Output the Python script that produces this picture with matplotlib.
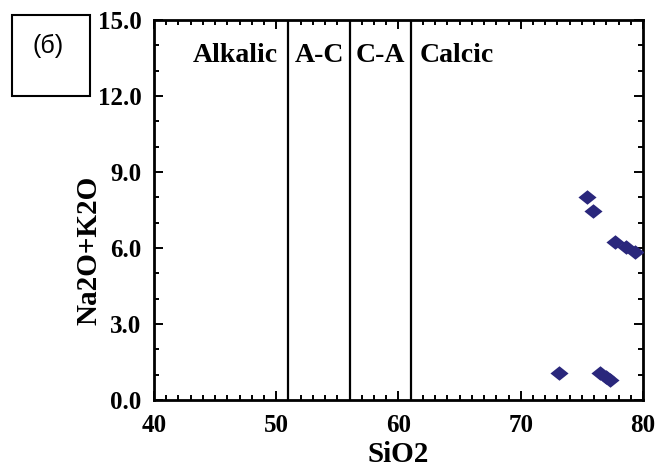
import matplotlib.pyplot as plt
from matplotlib.patches import Rectangle
from matplotlib.path import Path
from matplotlib.ticker import MultipleLocator

sio2 = [73.1, 75.4, 75.9, 76.5, 77.0, 77.3, 77.7, 78.6, 79.35]
alk = [1.05, 8.03, 7.47, 1.08, 0.92, 0.79, 6.22, 6.03, 5.84]
boundaries = [51, 56, 61]
fields = ["Alkalic", "A-C", "C-A", "Calcic"]
field_x = [43.2, 51.5, 56.5, 61.7]

serif = ["Liberation Serif", "DejaVu Serif"]

# slightly flattened diamond, as in the scanned figure
diamond = Path([(-1.25, 0), (0, 1), (1.25, 0), (0, -1), (-1.25, 0)],
               [Path.MOVETO, Path.LINETO, Path.LINETO, Path.LINETO, Path.CLOSEPOLY])

fig = plt.figure(figsize=(6.59, 4.68), dpi=100)
ax = fig.add_axes([0.2337, 0.1453, 0.742, 0.812])

ax.scatter(sio2, alk, marker=diamond, s=170, color="#2a277c", lw=0, zorder=3)
for b in boundaries:
    ax.axvline(b, color="black", lw=1.6)
for name, x in zip(fields, field_x):
    ax.text(x, 13.6, name, fontsize=20, fontweight="bold", family=serif,
            va="center", ha="left")

ax.set_xlim(40, 80)
ax.set_ylim(0, 15)
ax.xaxis.set_major_locator(MultipleLocator(10))
ax.xaxis.set_minor_locator(MultipleLocator(1))
ax.yaxis.set_major_locator(MultipleLocator(3))
ax.yaxis.set_minor_locator(MultipleLocator(1))
ax.tick_params(which="both", direction="in", top=True, right=True, width=1.4)
ax.tick_params(which="major", length=6.5, labelsize=18)
ax.tick_params(axis="x", which="major", pad=10)
ax.tick_params(axis="y", which="major", pad=9)
ax.tick_params(which="minor", length=3.5)
ax.set_yticklabels(["%.1f" % v for v in ax.get_yticks()])
for lab in ax.get_xticklabels() + ax.get_yticklabels():
    lab.set_family(serif)
    lab.set_fontweight("bold")
for s in ax.spines.values():
    s.set_linewidth(2)

ax.set_xlabel("SiO2", fontsize=21, fontweight="bold", family=serif, labelpad=3)
ax.set_ylabel("Na2O+K2O", fontsize=21, fontweight="bold", family=serif)
ax.yaxis.set_label_coords(-0.106, 0.395)

fig.patches.append(Rectangle((12 / 659, 1 - 96 / 468), 78 / 659, 81 / 468,
                             transform=fig.transFigure, fill=False,
                             edgecolor="black", lw=1.5))
fig.text(48 / 659, 1 - 46 / 468, "(б)", fontsize=18, family="Liberation Sans",
         ha="center", va="center")

fig.savefig("out.png", dpi=100)
